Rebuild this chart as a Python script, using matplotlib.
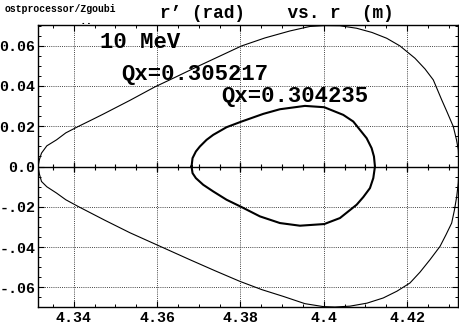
import numpy as np
import matplotlib
matplotlib.use("Agg")
import matplotlib.pyplot as plt

# ---- data ----
outer_r = [4.33143, 4.33172, 4.33224, 4.33352, 4.33585, 4.33808, 4.34103, 4.34463,
           4.34703, 4.35345, 4.35945, 4.36377, 4.37025, 4.38026, 4.38586, 4.39186,
           4.39666, 4.40026, 4.40387, 4.40788, 4.41155, 4.41508, 4.41827, 4.42187,
           4.42427, 4.42627, 4.42829, 4.42956, 4.43107, 4.43184, 4.43227, 4.43244,
           4.43227, 4.43189, 4.43136, 4.43068, 4.42932, 4.42788, 4.42548, 4.42307,
           4.42067, 4.41755, 4.41426, 4.41035, 4.40627, 4.40267, 4.39986, 4.39546,
           4.39025, 4.38514, 4.37986, 4.37385, 4.36785, 4.36065, 4.35345, 4.34744,
           4.34103, 4.33808, 4.33585, 4.33352, 4.33224, 4.33172, 4.33143]
outer_rp = [0.0, 0.00332, 0.00665, 0.01027, 0.01325, 0.01672, 0.01985, 0.02352,
            0.02600, 0.03285, 0.03955, 0.04377, 0.05022, 0.05990, 0.06387, 0.06734,
            0.06958, 0.07000, 0.06992, 0.06868, 0.06660, 0.06372, 0.05990, 0.05380,
            0.04849, 0.04303, 0.03310, 0.02715, 0.01985, 0.01325, 0.00829, 0.0,
            -0.00809, -0.01489, -0.02149, -0.02809, -0.03390, -0.03970, -0.04630, -0.05251,
            -0.05787, -0.06194, -0.06531, -0.06789, -0.06938, -0.06980, -0.06960, -0.06814,
            -0.06452, -0.06119, -0.05707, -0.05176, -0.04630, -0.03960, -0.03290, -0.02670,
            -0.01985, -0.01653, -0.01320, -0.01007, -0.00744, -0.00362, 0.0]

inner_r = [4.36825, 4.36849, 4.36929, 4.37025, 4.37185, 4.37345, 4.37666, 4.38026,
           4.38546, 4.38946, 4.39546, 4.40010, 4.40467, 4.40707, 4.40867, 4.41027,
           4.41147, 4.41203, 4.41227, 4.41187, 4.41107, 4.40947, 4.40787, 4.40387,
           4.40010, 4.39426, 4.38946, 4.38466, 4.38026, 4.37666, 4.37345, 4.37105,
           4.36929, 4.36849, 4.36825]
inner_rp = [0.0, 0.00415, 0.00746, 0.00994, 0.01324, 0.01572, 0.01953, 0.02234,
            0.02614, 0.02845, 0.03011, 0.02945, 0.02564, 0.02234, 0.01820, 0.01407,
            0.00911, 0.00497, 0.0, -0.00577, -0.01073, -0.01519, -0.01900, -0.02561,
            -0.02859, -0.02941, -0.02809, -0.02478, -0.02015, -0.01652, -0.01238, -0.00908,
            -0.00577, -0.00329, 0.0]

x_ticks = [4.34, 4.36, 4.38, 4.40, 4.42]
x_tick_labels = ["4.34", "4.36", "4.38", "4.4", "4.42"]
y_ticks = [-0.06, -0.04, -0.02, 0.0, 0.02, 0.04, 0.06]
y_tick_labels = ["-.06", "-.04", "-.02", "0.0", "0.02", "0.04", "0.06"]

title_text = "r\u2019 (rad)    vs. r  (m)"
energy_text = "10 MeV"
qx_outer = "Qx=0.305217"
qx_inner = "Qx=0.304235"
corner_text = "ostprocessor/Zgoubi"
corner_dots = ".."

# ---- figure ----
W, H = 459, 333
fig = plt.figure(figsize=(W / 100, H / 100), dpi=100)
ax = fig.add_axes([38 / W, 1 - 307 / H, 420 / W, 282 / H])

MONO = "Liberation Mono"

ax.plot(outer_r, outer_rp, color="black", lw=0.8, zorder=3)
ax.plot(inner_r, inner_rp, color="black", lw=1.5, zorder=3)

ax.set_xlim(4.3314, 4.4322)
ax.set_ylim(-0.0698, 0.0703)

ax.set_xticks(x_ticks)
ax.set_xticklabels(x_tick_labels)
ax.set_yticks(y_ticks)
ax.set_yticklabels(y_tick_labels)
minor_x = np.arange(4.335, 4.4325, 0.005)
ax.set_xticks(minor_x, minor=True)
ax.set_yticks(np.arange(-0.065, 0.0701, 0.005), minor=True)

for lab in ax.get_xticklabels() + ax.get_yticklabels():
    lab.set_fontfamily(MONO)
    lab.set_fontweight("bold")
    lab.set_fontsize(10.8)

ax.tick_params(which="major", direction="in", length=4, width=0.8,
               top=True, right=True, colors="black")
ax.tick_params(which="minor", direction="in", length=2.2, width=0.7,
               top=True, right=True)
ax.tick_params(axis="x", pad=3)
ax.tick_params(axis="y", pad=2)

# dotted grid (not at zero)
for xv in x_ticks:
    ax.axvline(xv, color="#444444", lw=0.7, ls=(0, (1, 1.2)), zorder=1)
for yv in y_ticks:
    if yv != 0.0:
        ax.axhline(yv, color="#444444", lw=0.7, ls=(0, (1, 1.2)), zorder=1)

# zero axis with ticks
ax.axhline(0.0, color="black", lw=1.0, zorder=2)
ax.plot(minor_x, np.zeros_like(minor_x), ls="none", marker="|", ms=5,
        mew=0.8, color="black", zorder=2)
ax.plot(x_ticks, np.zeros(len(x_ticks)), ls="none", marker="|", ms=7,
        mew=0.9, color="black", zorder=2)

for s in ax.spines.values():
    s.set_linewidth(1.0)
    s.set_color("black")


def ftext(px, py, s, size, **kw):
    fig.text(px / W, 1 - py / H, s, fontsize=size, family=MONO,
             fontweight="bold", va="baseline", ha="left", **kw)


ftext(160, 18, title_text, 12.8)
ftext(5, 12.5, corner_text, 7.0)
ftext(80, 23.5, corner_dots, 8)
ftext(100, 48.3, energy_text, 16)
ftext(121.5, 80, qx_outer, 16)
ftext(221, 101.5, qx_inner, 16)

fig.savefig("out.png", dpi=100)
